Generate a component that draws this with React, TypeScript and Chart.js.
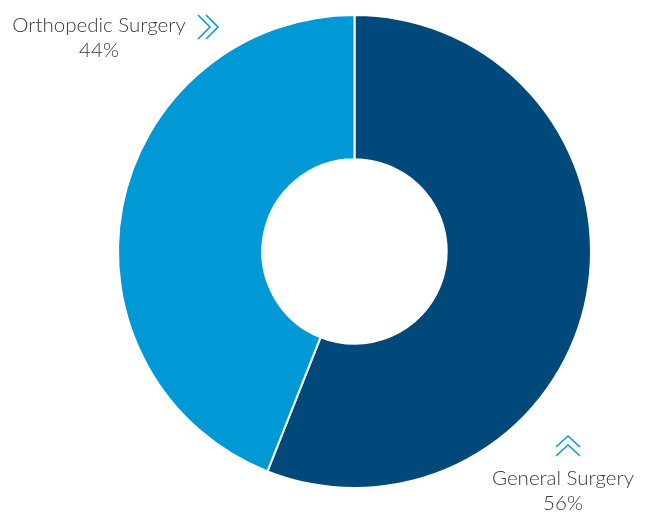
import React, { useEffect, useRef } from "react";
import { Chart, registerables } from "chart.js";

Chart.register(...registerables);

const categories = ["General Surgery", "Orthopedic Surgery"];
const shares = [56, 44];
const shareLabels = ["56%", "44%"];
const colors = ["#00497A", "#0099D6"];

export default function App() {
  const ref = useRef<HTMLCanvasElement | null>(null);
  useEffect(() => {
    if (!ref.current) return;
    const chart = new Chart(ref.current, {
      type: "doughnut",
      data: {
        labels: categories,
        datasets: [
          {
            data: shares,
            backgroundColor: colors,
            borderColor: "#ffffff",
            borderWidth: 2,
          },
        ],
      },
      options: {
        responsive: false,
        animation: false,
        cutout: "39%",
        layout: { padding: { left: 117, right: 57, top: 14, bottom: 25 } },
        plugins: { legend: { display: false }, tooltip: { enabled: false } },
      },
    });
    return () => chart.destroy();
  }, []);

  const textStyle: React.CSSProperties = {
    position: "absolute",
    fontFamily: "Lato, sans-serif",
    fontWeight: 300,
    fontSize: 20.5,
    lineHeight: "25px",
    color: "#3a3a3a",
    textAlign: "center",
    whiteSpace: "nowrap",
    transform: "translateX(-50%)",
  };

  return (
    <div style={{ position: "absolute", left: 0, top: 0, width: 649, height: 514, background: "#fff" }}>
      <canvas ref={ref} width={649} height={514} style={{ position: "absolute", left: 0, top: 0 }} />
      <div style={{ ...textStyle, left: 99, top: 12 }}>
        {categories[1]}
        <br />
        {shareLabels[1]}
      </div>
      <div style={{ ...textStyle, left: 563, top: 465 }}>
        {categories[0]}
        <br />
        {shareLabels[0]}
      </div>
      <svg width={649} height={514} style={{ position: "absolute", left: 0, top: 0, pointerEvents: "none" }}>
        <g fill="none" stroke="#0099D6" strokeWidth={1.5}>
          <polyline points="198,15 210,27 198,39" />
          <polyline points="206,15 218,27 206,39" />
          <polyline points="556,447 568,436 580,447" />
          <polyline points="556,456 568,445 580,456" />
        </g>
      </svg>
    </div>
  );
}
